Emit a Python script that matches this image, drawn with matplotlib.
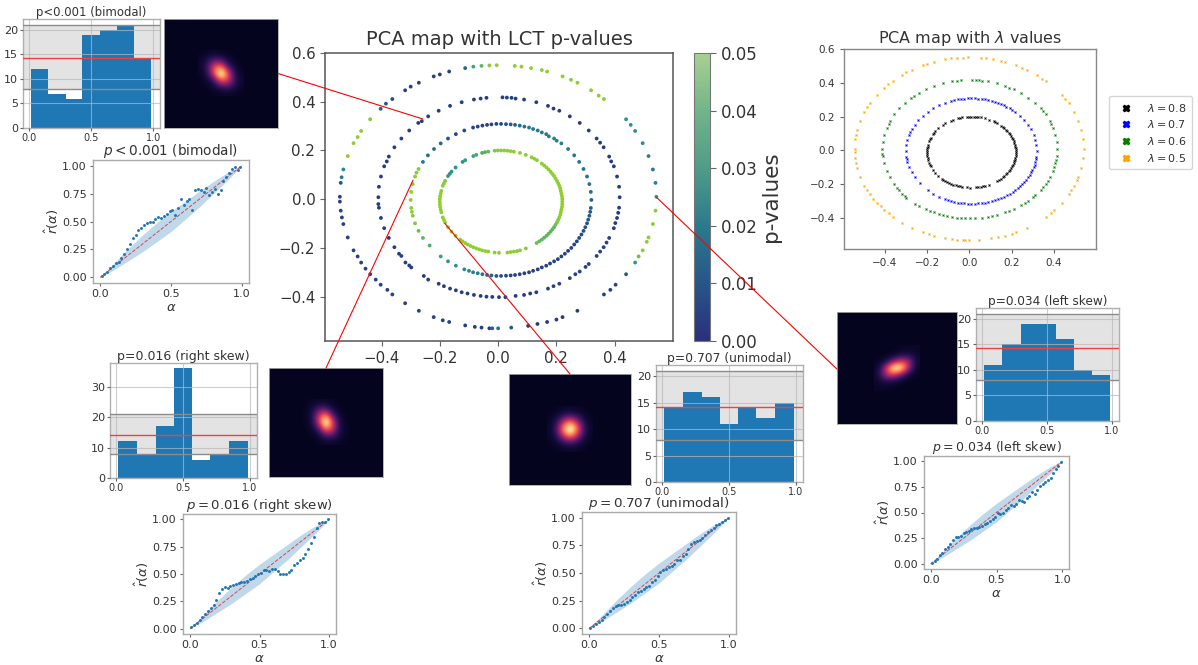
import numpy as np
import matplotlib
matplotlib.use('Agg')
import matplotlib.pyplot as plt
from matplotlib.colors import LinearSegmentedColormap
from matplotlib.cm import ScalarMappable
from matplotlib.colors import Normalize
from matplotlib.lines import Line2D
from matplotlib.patches import ConnectionPatch

# (x, y, p-value), one list per ring
ring_08 = [(.202,-.095,.040),(.206,-.085,.042),(.210,-.075,.046),(.213,-.064,.047),(.215,-.054,.047),(.217,-.043,.047),(.219,-.032,.047),(.220,-.021,.047),(.220,-.010,.047),(.220,.001,.047),(.219,.012,.047),(.217,.023,.047),(.215,.034,.047),(.213,.045,.047),(.210,.055,.047),(.206,.065,.047),(.202,.075,.047),(.197,.085,.047),(.192,.095,.047),(.186,.104,.047),(.180,.113,.047),(.173,.122,.047),(.166,.130,.047),(.158,.138,.046),(.150,.146,.046),(.133,.160,.047),(.124,.166,.047),(.115,.172,.047),(.095,.182,.046),(.075,.190,.047),(.054,.195,.047),(.043,.197,.046),(.032,.199,.046),(.021,.200,.047),(.010,.200,.045),(-.001,.200,.043),(-.012,.199,.040),(-.034,.195,.036),(-.045,.193,.035),(-.055,.190,.034),(-.075,.182,.033),(-.085,.177,.032),(-.113,.160,.030),(-.122,.153,.029),(-.146,.130,.027),(-.160,.113,.028),(-.166,.104,.028),(-.172,.095,.030),(-.182,.075,.040),(-.186,.065,.044),(-.190,.055,.046),(-.195,.034,.047),(-.197,.023,.047),(-.199,.012,.047),(-.200,.001,.047),(-.200,-.010,.047),(-.200,-.021,.047),(-.199,-.032,.047),(-.197,-.043,.047),(-.195,-.054,.047),(-.190,-.075,.047),(-.186,-.085,.047),(-.182,-.095,.047),(-.172,-.115,.047),(-.160,-.133,.047),(-.146,-.150,.047),(-.130,-.166,.047),(-.122,-.173,.047),(-.113,-.180,.047),(-.104,-.186,.047),(-.095,-.192,.047),(-.085,-.197,.047),(-.075,-.202,.047),(-.065,-.206,.047),(-.055,-.210,.047),(-.044,-.213,.047),(-.034,-.215,.047),(-.012,-.219,.047),(.003,-.220,.045),(.032,-.219,.047),(.043,-.217,.047),(.054,-.215,.046),(.065,-.213,.045),(.075,-.210,.044),(.095,-.202,.043),(.132,-.180,.038),(.141,-.173,.037),(.150,-.166,.036),(.158,-.158,.036),(.166,-.150,.036),(.173,-.142,.036),(.180,-.133,.036),(.186,-.124,.036),(.192,-.115,.036),(.197,-.105,.038)]

ring_07 = [(.320,-.003,.014),(.318,.030,.017),(.313,.062,.018),(.305,.093,.018),(.293,.124,.019),(.278,.153,.020),(.261,.180,.020),(.240,.206,.021),(.217,.229,.022),(.201,.240,.022),(.192,.249,.022),(.174,.258,.021),(.165,.267,.021),(.150,.274,.021),(.136,.282,.020),(.120,.288,.020),(.106,.294,.019),(.090,.298,.018),(.074,.302,.016),(.058,.305,.014),(.043,.307,.012),(.027,.308,.010),(.010,.309,.008),(-.006,.309,.007),(-.023,.307,.006),(-.038,.305,.006),(-.054,.302,.006),(-.070,.298,.006),(-.086,.294,.007),(-.116,.282,.008),(-.145,.267,.008),(-.172,.249,.010),(-.197,.229,.015),(-.220,.206,.017),(-.241,.180,.018),(-.258,.153,.020),(-.273,.124,.042),(-.280,.109,.044),(-.285,.093,.046),(-.293,.062,.047),(-.298,.030,.047),(-.300,-.003,.047),(-.298,-.036,.046),(-.296,-.052,.045),(-.293,-.068,.044),(-.285,-.099,.041),(-.273,-.130,.038),(-.258,-.159,.036),(-.235,-.190,.034),(-.197,-.235,.031),(-.172,-.255,.029),(-.145,-.273,.027),(-.116,-.288,.025),(-.100,-.294,.024),(-.086,-.300,.022),(-.070,-.304,.021),(-.054,-.308,.019),(-.038,-.311,.017),(-.023,-.313,.014),(-.006,-.315,.012),(.010,-.315,.010),(.027,-.314,.008),(.043,-.313,.006),(.058,-.311,.006),(.074,-.308,.005),(.090,-.304,.005),(.106,-.300,.005),(.120,-.294,.005),(.136,-.288,.005),(.150,-.280,.005),(.165,-.273,.005),(.178,-.264,.005),(.192,-.255,.006),(.205,-.246,.006),(.217,-.235,.006),(.229,-.224,.006),(.240,-.212,.006),(.251,-.200,.007),(.261,-.186,.007),(.270,-.173,.007),(.278,-.159,.008),(.286,-.145,.008),(.293,-.130,.009),(.299,-.115,.010),(.305,-.099,.010),(.309,-.084,.011),(.313,-.068,.012),(.316,-.052,.012),(.318,-.036,.013)]

ring_06 = [(.417,.008,.004),(.415,.051,.004),(.408,.093,.004),(.397,.135,.004),(.388,.155,.004),(.381,.175,.004),(.362,.213,.004),(.350,.232,.004),(.338,.249,.004),(.311,.282,.004),(.280,.313,.004),(.246,.340,.004),(.210,.363,.004),(.190,.372,.004),(.171,.383,.004),(.131,.398,.004),(.089,.409,.004),(.060,.413,.004),(.046,.416,.004),(.030,.417,.004),(.015,.418,.004),(-.040,.416,.004),(-.060,.413,.004),(-.083,.409,.004),(-.125,.398,.004),(-.165,.383,.004),(-.204,.363,.004),(-.240,.340,.004),(-.262,.320,.004),(-.274,.313,.004),(-.305,.282,.004),(-.332,.249,.004),(-.356,.213,.004),(-.375,.175,.004),(-.382,.155,.004),(-.391,.135,.004),(-.402,.093,.004),(-.409,.051,.004),(-.411,.008,.004),(-.411,-.020,.004),(-.409,-.035,.004),(-.402,-.077,.004),(-.391,-.119,.004),(-.375,-.159,.004),(-.356,-.197,.004),(-.340,-.224,.004),(-.332,-.233,.004),(-.318,-.260,.004),(-.305,-.272,.004),(-.298,-.280,.004),(-.255,-.315,.004),(-.240,-.330,.004),(-.204,-.347,.004),(-.186,-.357,.004),(-.165,-.367,.004),(-.145,-.374,.004),(-.125,-.382,.004),(-.105,-.387,.004),(-.083,-.393,.004),(-.060,-.397,.004),(-.040,-.400,.004),(-.020,-.401,.004),(.003,-.402,.004),(.025,-.402,.004),(.060,-.397,.004),(.089,-.393,.004),(.110,-.387,.004),(.131,-.382,.004),(.171,-.367,.005),(.190,-.357,.005),(.210,-.347,.005),(.246,-.324,.005),(.265,-.308,.005),(.280,-.297,.005),(.300,-.278,.005),(.311,-.266,.005),(.338,-.233,.005),(.350,-.215,.005),(.362,-.197,.005),(.372,-.178,.005),(.381,-.159,.005),(.397,-.119,.004),(.402,-.098,.004),(.408,-.077,.004),(.412,-.056,.004),(.415,-.035,.004)]

ring_05 = [(.543,.010,.030),(.540,.067,.022),(.531,.122,.020),(.516,.177,.022),(.496,.230,.026),(.470,.280,.028),(.455,.305,.028),(.439,.328,.028),(.363,.411,.046),(.345,.425,.046),(.319,.447,.046),(.272,.478,.046),(.250,.490,.046),(.221,.504,.046),(.168,.524,.046),(.150,.530,.046),(.113,.538,.046),(.080,.544,.046),(.057,.547,.046),(-.005,.550,.046),(-.030,.549,.044),(-.057,.547,.036),(-.085,.544,.032),(-.113,.538,.015),(-.168,.524,.006),(-.200,.512,.005),(-.221,.504,.005),(-.272,.478,.005),(-.300,.462,.005),(-.319,.447,.005),(-.363,.411,.008),(-.385,.392,.012),(-.403,.371,.014),(-.439,.328,.040),(-.470,.280,.046),(-.482,.255,.046),(-.496,.230,.046),(-.516,.177,.046),(-.531,.122,.025),(-.537,.090,.020),(-.540,.067,.012),(-.543,.010,.005),(-.543,-.010,.005),(-.540,-.047,.005),(-.536,-.075,.005),(-.531,-.102,.005),(-.516,-.157,.005),(-.496,-.210,.005),(-.482,-.235,.005),(-.470,-.260,.005),(-.455,-.285,.005),(-.439,-.308,.005),(-.420,-.330,.005),(-.403,-.351,.005),(-.380,-.372,.005),(-.363,-.391,.005),(-.319,-.427,.005),(-.272,-.458,.005),(-.221,-.484,.005),(-.190,-.497,.005),(-.168,-.504,.005),(-.113,-.518,.004),(-.080,-.524,.004),(-.057,-.527,.004),(-.030,-.530,.004),(.000,-.530,.018),(-.020,-.530,.015),(.045,-.527,.012),(.103,-.520,.004),(.135,-.512,.003),(.168,-.504,.003),(.200,-.494,.003),(.221,-.484,.003),(.272,-.458,.004),(.363,-.391,.004),(.385,-.372,.004),(.403,-.351,.006),(.439,-.308,.012),(.470,-.260,.030),(.482,-.235,.038),(.496,-.210,.044),(.510,-.175,.046),(.516,-.157,.046),(.531,-.102,.046),(.540,-.047,.046)]

labels_lambda = ['$\\lambda=0.8$', '$\\lambda=0.7$', '$\\lambda=0.6$', '$\\lambda=0.5$']
colors_lambda = ['black', 'blue', 'green', 'orange']

# histograms of the 99 p-values
bin_edges = [0.015, 0.155, 0.295, 0.43, 0.57, 0.705, 0.845, 0.985]
hist_bimodal = [12, 7, 6, 19, 20, 21, 14]
hist_right = [12, 8, 17, 36, 6, 8, 12]
hist_unimodal = [14, 17, 16, 11, 14, 12, 15]
hist_left = [11, 15, 19, 19, 16, 10, 9]
band_low, band_high, hist_mean = 8, 21, 14.2

# calibration curves
alpha = [.01,.03,.05,.07,.09,.11,.13,.15,.17,.19,.21,.23,.25,.27,.29,.31,.33,.35,.37,.39,.41,.43,.45,.47,.49,.51,.53,.55,.57,.59,.61,.63,.65,.67,.69,.71,.73,.75,.77,.79,.81,.83,.85,.87,.89,.91,.93,.95,.97,.99]
cal_bimodal = [.01,.03,.05,.08,.10,.125,.14,.17,.21,.25,.30,.35,.38,.42,.44,.47,.49,.50,.50,.52,.54,.53,.55,.57,.59,.60,.56,.62,.70,.65,.68,.70,.60,.78,.79,.78,.76,.80,.74,.76,.79,.75,.78,.86,.90,.93,.97,.99,.96,.99]
cal_right = [.01,.03,.05,.08,.11,.13,.16,.19,.22,.26,.33,.36,.38,.37,.39,.40,.41,.42,.43,.43,.44,.45,.46,.48,.50,.51,.54,.54,.53,.55,.55,.53,.50,.50,.50,.52,.54,.58,.60,.63,.65,.68,.73,.78,.84,.92,.97,.98,.98,1.0]
cal_unimodal = [.005,.02,.04,.06,.08,.10,.13,.16,.18,.20,.21,.21,.22,.24,.26,.28,.30,.33,.34,.36,.37,.38,.42,.44,.47,.51,.53,.54,.55,.56,.58,.62,.62,.65,.67,.72,.76,.78,.79,.80,.82,.84,.87,.89,.91,.93,.94,.96,.98,.995]
cal_left = [.01,.03,.05,.09,.11,.14,.16,.19,.23,.26,.26,.27,.30,.31,.32,.34,.35,.35,.36,.37,.39,.40,.42,.44,.46,.50,.49,.50,.52,.54,.57,.56,.58,.62,.61,.60,.64,.66,.70,.68,.72,.76,.78,.80,.82,.84,.88,.92,.95,.99]
band_x = [0, .1, .2, .3, .4, .5, .6, .7, .8, .9, 1]
band_lo = [0, .07, .15, .23, .32, .41, .52, .63, .75, .87, 1]
band_hi = [0, .13, .26, .38, .49, .59, .68, .77, .86, .94, 1]

# likelihood maps, small grids around the peak
img_bimodal = [[.005,.02,.03,.02,.01,.005,0],
               [.025,.11,.22,.18,.07,.01,.005],
               [.03,.18,.50,.59,.21,.06,.005],
               [.015,.14,.55,1,.55,.14,.015],
               [.005,.06,.21,.59,.50,.18,.03],
               [.005,.01,.07,.18,.22,.11,.025],
               [0,.005,.01,.02,.03,.02,.005]]
img_right = [[.005,.02,.03,.03,.01,.002,0],
             [.01,.08,.22,.22,.07,.01,.002],
             [.01,.12,.45,.65,.23,.05,.005],
             [.01,.10,.49,1,.49,.10,.01],
             [.005,.05,.23,.65,.45,.12,.01],
             [.002,.01,.07,.22,.22,.08,.01],
             [0,.002,.01,.03,.03,.02,.005]]
img_unimodal = [[.002,.01,.02,.03,.02,.01,.002],
                [.01,.05,.14,.20,.14,.05,.01],
                [.02,.14,.43,.66,.43,.14,.02],
                [.03,.20,.66,1,.66,.20,.03],
                [.02,.14,.43,.66,.43,.14,.02],
                [.01,.05,.14,.20,.14,.05,.01],
                [.002,.01,.02,.03,.02,.01,.002]]
img_left = [[0,0,0,.003,.01,.02,.02],
            [0,.002,.007,.05,.09,.09,.03],
            [.01,.05,.20,.395,.48,.31,.05],
            [.03,.285,.73,1,.73,.285,.03],
            [.05,.31,.48,.395,.20,.05,.01],
            [.03,.09,.09,.05,.007,.002,0],
            [.02,.02,.01,.003,0,0,0]]

W, H = 1198, 665
plt.rcParams['text.color'] = '#333333'
plt.rcParams['axes.labelcolor'] = '#333333'
plt.rcParams['xtick.labelcolor'] = '#333333'
plt.rcParams['ytick.labelcolor'] = '#333333'
plt.rcParams['xtick.color'] = '#666666'
plt.rcParams['ytick.color'] = '#666666'

fig = plt.figure(figsize=(W / 100, H / 100), dpi=100)


def box(left, top, right, bottom):
    return fig.add_axes([left / W, 1 - bottom / H, (right - left) / W, (bottom - top) / H])


def spines(ax, color, lw=1.0):
    for s in ax.spines.values():
        s.set_color(color)
        s.set_linewidth(lw)


# main map
point_cmap = LinearSegmentedColormap.from_list('points', ['#29307c', '#24528a', '#27788e', '#2f9a88', '#80c840', '#94d22a'])
bar_cmap = LinearSegmentedColormap.from_list('bar', ['#2c2f7c', '#26568a', '#2b7a8c', '#4f9c88', '#72b48a', '#a8d092'])
rings = [ring_08, ring_07, ring_06, ring_05]
ax = box(325, 53, 673, 341)
for ring in rings:
    xs, ys, ps = zip(*ring)
    ax.scatter(xs, ys, c=ps, cmap=point_cmap, vmin=0, vmax=0.05, s=7.5, linewidths=0)
ax.set_xlim(-0.594, 0.6)
ax.set_ylim(-0.582, 0.6)
ax.set_xticks([-0.4, -0.2, 0, 0.2, 0.4])
ax.set_yticks([-0.4, -0.2, 0, 0.2, 0.4, 0.6])
ax.tick_params(labelsize=10.8)
ax.set_title('PCA map with LCT p-values', fontsize=14, pad=6)
spines(ax, '#555555', 1.1)

cax = box(694, 53, 710, 341)
cb = fig.colorbar(ScalarMappable(Normalize(0, 0.05), bar_cmap), cax=cax)
cb.set_ticks([0, 0.01, 0.02, 0.03, 0.04, 0.05])
cb.set_ticklabels(['0.00', '0.01', '0.02', '0.03', '0.04', '0.05'])
cb.ax.tick_params(labelsize=12, length=4)
cb.set_label('p-values', fontsize=15.5, labelpad=3)
cb.outline.set_edgecolor('#777777')

# lambda map
ax2 = box(844, 49, 1096, 249)
handles = []
for ring, lab, col in zip(rings, labels_lambda, colors_lambda):
    xs, ys, ps = zip(*ring)
    ax2.scatter(xs, ys, color=col, s=3.5, marker='X', linewidths=0)
    handles.append(Line2D([], [], linestyle='None', marker='X', color=col, markersize=4.5, label=lab))
ax2.set_xlim(-0.593, 0.6)
ax2.set_ylim(-0.583, 0.6)
ax2.set_xticks([-0.4, -0.2, 0, 0.2, 0.4])
ax2.set_yticks([-0.4, -0.2, 0, 0.2, 0.4, 0.6])
ax2.tick_params(labelsize=7.5, length=3)
ax2.set_title('PCA map with $\\lambda$ values', fontsize=11.5, pad=4)
spines(ax2, '#888888')
fig.legend(handles=handles, loc='upper left', bbox_to_anchor=(1109 / W, 1 - 96 / H), borderaxespad=0,
           fontsize=8, labelspacing=0.42, handletextpad=0.9, borderpad=0.5)

# the four examples, positions in pixels
hist_boxes = [(23, 19, 160, 128), (110, 363, 257, 478), (656, 365, 803, 482), (976, 308, 1119, 421)]
hist_titles = ['p<0.001 (bimodal)', 'p=0.016 (right skew)', 'p=0.707 (unimodal)', 'p=0.034 (left skew)']
hist_title_sizes = [8.4, 9, 8.9, 8.7]
hist_data = [hist_bimodal, hist_right, hist_unimodal, hist_left]
hist_tops = [22.2, 37.8, 22.1, 22.1]
hist_yticks = [[0, 5, 10, 15, 20], [0, 10, 20, 30], [0, 5, 10, 15, 20], [0, 5, 10, 15, 20]]

widths = np.diff(bin_edges)
for b, title, fs, counts, top, yt in zip(hist_boxes, hist_titles, hist_title_sizes, hist_data, hist_tops, hist_yticks):
    h = box(*b)
    h.axhspan(band_low, band_high, color='grey', alpha=0.22, linewidth=0, zorder=1)
    h.bar(bin_edges[:-1], counts, widths, align='edge', color='#1f77b4', zorder=2)
    h.axhline(band_low, color='#8c8c8c', lw=1, zorder=3)
    h.axhline(band_high, color='#8c8c8c', lw=1, zorder=3)
    h.axhline(hist_mean, color='#f04040', lw=1, zorder=4)
    h.grid(True, color='#b8b8b8', lw=0.8, alpha=0.7, zorder=3)
    h.set_axisbelow(False)
    h.set_xlim(-0.048, 1.054)
    h.set_ylim(0, top)
    h.set_xticks([0, 0.5, 1])
    h.set_xticklabels(['0.0', '0.5', '1.0'], fontsize=7)
    h.set_yticks(yt)
    h.tick_params(axis='y', labelsize=8)
    h.tick_params(length=2, pad=1.5)
    h.set_title(title, fontsize=fs, pad=1.5)
    spines(h, '#b0b0b0')

img_cmap = LinearSegmentedColormap.from_list('glow', [(0, '#04041f'), (.1, '#1f0f4a'), (.26, '#6d1c6e'), (.42, '#c8305f'), (.58, '#f8704f'), (.76, '#fecf8e'), (1, '#fffbe6')])
img_boxes = [(164, 19, 278, 128), (269, 368, 383, 477), (509, 374, 631, 485), (837, 312, 957, 424)]
img_data = [img_bimodal, img_right, img_unimodal, img_left]
img_axes = []
for b, grid in zip(img_boxes, img_data):
    im = box(*b)
    im.imshow(grid, cmap=img_cmap, vmin=0, vmax=1, interpolation='bicubic', extent=(-3.5, 3.5, 3.5, -3.5), aspect='auto')
    # one grid cell is 6.5 pixels wide
    im.set_xlim(-(b[2] - b[0]) / 13, (b[2] - b[0]) / 13)
    im.set_ylim((b[3] - b[1]) / 13, -(b[3] - b[1]) / 13)
    im.set_facecolor(img_cmap(0.0))
    im.set_xticks([])
    im.set_yticks([])
    spines(im, '#aaaaaa', 0.6)
    img_axes.append(im)

cal_boxes = [(93, 160, 249, 283), (183, 514, 336, 634), (582, 512, 736, 634), (924, 456, 1069, 569)]
cal_titles = ['$p<0.001$ (bimodal)', '$p=0.016$ (right skew)', '$p=0.707$ (unimodal)', '$p=0.034$ (left skew)']
cal_title_sizes = [9.8, 9.5, 9.7, 9]
cal_data = [cal_bimodal, cal_right, cal_unimodal, cal_left]
for b, title, fs, ys in zip(cal_boxes, cal_titles, cal_title_sizes, cal_data):
    c = box(*b)
    c.fill_between(band_x, band_lo, band_hi, color='#1f77b4', alpha=0.28, linewidth=0)
    c.plot([0, 1], [0, 1], color='#d9434f', lw=0.7, ls='--')
    c.scatter(alpha, ys, s=4.5, color='#1f77b4', linewidths=0, zorder=3)
    c.set_xlim(-0.05, 1.05)
    c.set_ylim(-0.05, 1.05)
    c.set_xticks([0, 0.5, 1])
    c.set_xticklabels(['0.0', '0.5', '1.0'])
    c.set_yticks([0, 0.25, 0.5, 0.75, 1])
    c.set_yticklabels(['0.00', '0.25', '0.50', '0.75', '1.00'])
    c.tick_params(labelsize=8, length=2.5, pad=2)
    c.set_xlabel('$\\alpha$', fontsize=9.5, labelpad=1)
    c.set_ylabel('$\\hat{r}(\\alpha)$', fontsize=9.5, labelpad=1)
    c.set_title(title, fontsize=fs, pad=0.5)
    spines(c, '#aaaaaa')

# red lines from the map to the example images
links = [((-.258, .329), 0, (1, .5)), ((-.292, .078), 1, (.5, 1)), ((-.183, -.099), 2, (.5, 1)), ((.543, .008), 3, (0, .49))]
for xy, i, end in links:
    fig.add_artist(ConnectionPatch(xyA=xy, coordsA=ax.transData, xyB=end, coordsB=img_axes[i].transAxes,
                                   color='red', lw=0.8))

fig.savefig('out.png', dpi=100)
